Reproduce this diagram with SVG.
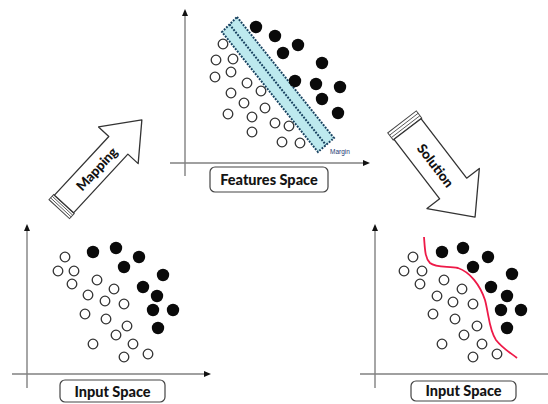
<svg xmlns="http://www.w3.org/2000/svg" width="548" height="404" viewBox="0 0 548 404">
<style>
.axis{stroke:#808080;stroke-width:1.4;fill:none}
.ah{fill:#111}
.o{fill:#fff;stroke:#333;stroke-width:1.3}
.b{fill:#0a0a0a}
.box{fill:#fff;stroke:#444;stroke-width:1.2}
.lbl{font-family:Lato,"Open Sans",sans-serif;font-weight:900;font-size:14.5px;fill:#141414;text-anchor:middle}
.arr{fill:#fff;stroke:#333;stroke-width:1.3;stroke-linejoin:round}
.cap{fill:#fff;stroke:#444;stroke-width:1}
.capl{stroke:#555;stroke-width:0.9}
.atxt{font-family:Lato,"Open Sans",sans-serif;font-weight:900;font-size:13.5px;fill:#111;text-anchor:middle}
.dot{stroke:#17405f;stroke-width:2;stroke-dasharray:1.8 1.4}
</style>
<defs>
<g id="oc"><circle r="4.8" class="o"/></g>
<g id="bc"><circle r="6.2" class="b"/></g>
</defs>

<g id="connectors">
  <g id="mapping-arrow" transform="translate(64,204) rotate(-47.2)">
    <rect x="-7" y="-14" width="7" height="28" class="cap"/>
    <line x1="-2.3" y1="-14" x2="-2.3" y2="14" class="capl"/>
    <line x1="-4.6" y1="-14" x2="-4.6" y2="14" class="capl"/>
    <polygon points="0,-13 80,-13 80,-27 114.6,0 80,27 80,13 0,13" class="arr"/>
    <text x="48" y="5" class="atxt">Mapping</text>
  </g>
  <g id="solution-arrow" transform="translate(407.5,129) rotate(52.5)">
    <rect x="-9" y="-18" width="9" height="36" class="cap"/>
    <line x1="-3" y1="-18" x2="-3" y2="18" class="capl"/>
    <line x1="-6" y1="-18" x2="-6" y2="18" class="capl"/>
    <polygon points="0,-17 75,-17 75,-33 111,0 75,33 75,17 0,17" class="arr"/>
    <text x="46" y="5" class="atxt">Solution</text>
  </g>
</g>

<g id="features-space">
  <line x1="185" y1="14" x2="185" y2="176" class="axis"/>
  <polygon points="185,9 182,16 188,16" class="ah"/>
  <line x1="170" y1="163" x2="364" y2="163" class="axis"/>
  <polygon points="370,163 363,160 363,166" class="ah"/>
  <g id="margin-band">
    <polygon points="237,17 334,138 318,152 222,32" fill="#bde9ee" class="dot"/>
    <line x1="229.5" y1="24.5" x2="326" y2="145" class="dot"/>
    <text x="330" y="154" font-family="Liberation Sans,Arial,sans-serif" font-size="6.5" fill="#1d3a72">Margin</text>
  </g>
  <g id="fs-black">
    <use href="#bc" x="256" y="27"/><use href="#bc" x="275" y="36"/><use href="#bc" x="298" y="45"/>
    <use href="#bc" x="283" y="53"/><use href="#bc" x="322" y="63"/><use href="#bc" x="295" y="81"/>
    <use href="#bc" x="316" y="84"/><use href="#bc" x="340" y="87"/><use href="#bc" x="322" y="99"/>
    <use href="#bc" x="338" y="113"/>
  </g>
  <g id="fs-open">
    <use href="#oc" x="223" y="44"/><use href="#oc" x="216" y="60"/><use href="#oc" x="233" y="59"/>
    <use href="#oc" x="215" y="77"/><use href="#oc" x="231" y="72"/><use href="#oc" x="247" y="83"/>
    <use href="#oc" x="231" y="93"/><use href="#oc" x="261" y="91"/><use href="#oc" x="244" y="103"/>
    <use href="#oc" x="265" y="108"/><use href="#oc" x="228" y="114"/><use href="#oc" x="252" y="117"/>
    <use href="#oc" x="275" y="123"/><use href="#oc" x="289" y="126"/><use href="#oc" x="252" y="132"/>
    <use href="#oc" x="282" y="142"/><use href="#oc" x="300" y="143"/>
  </g>
  <rect x="210" y="167" width="118" height="25" rx="5" class="box"/>
  <text x="269" y="185" class="lbl">Features Space</text>
</g>

<g id="input-space-left">
  <line x1="27" y1="229" x2="27" y2="388" class="axis"/>
  <polygon points="27,224 24,231 30,231" class="ah"/>
  <line x1="12" y1="374" x2="205" y2="374" class="axis"/>
  <polygon points="211,374 204,371 204,377" class="ah"/>
  <g id="ls-black">
    <use href="#bc" x="93" y="252"/><use href="#bc" x="116" y="248"/><use href="#bc" x="139" y="257"/>
    <use href="#bc" x="124" y="267"/><use href="#bc" x="163" y="275"/><use href="#bc" x="143" y="287"/>
    <use href="#bc" x="157" y="296"/><use href="#bc" x="153" y="310"/><use href="#bc" x="173" y="310"/>
    <use href="#bc" x="158" y="328"/>
  </g>
  <g id="ls-open">
    <use href="#oc" x="65" y="257"/><use href="#oc" x="58" y="271"/><use href="#oc" x="74" y="271"/>
    <use href="#oc" x="72" y="284"/><use href="#oc" x="97" y="280"/><use href="#oc" x="88" y="295"/>
    <use href="#oc" x="114" y="289"/><use href="#oc" x="105" y="301"/><use href="#oc" x="124" y="304"/>
    <use href="#oc" x="85" y="314"/><use href="#oc" x="106" y="319"/><use href="#oc" x="127" y="326"/>
    <use href="#oc" x="116" y="335"/><use href="#oc" x="93" y="344"/><use href="#oc" x="133" y="344"/>
    <use href="#oc" x="124" y="357"/><use href="#oc" x="148" y="354"/>
  </g>
  <rect x="60" y="380" width="105" height="22" rx="5" class="box"/>
  <text x="112.5" y="396.5" class="lbl">Input Space</text>
</g>

<g id="input-space-right">
  <line x1="375" y1="229" x2="375" y2="388" class="axis"/>
  <polygon points="375,224 372,231 378,231" class="ah"/>
  <line x1="360" y1="374" x2="548" y2="374" class="axis"/>
  <g id="rs-black">
    <use href="#bc" x="442" y="252"/><use href="#bc" x="463" y="248"/><use href="#bc" x="488" y="257"/>
    <use href="#bc" x="473" y="267"/><use href="#bc" x="512" y="274"/><use href="#bc" x="491" y="287"/>
    <use href="#bc" x="507" y="296"/><use href="#bc" x="501" y="310"/><use href="#bc" x="521" y="310"/>
    <use href="#bc" x="507" y="328"/>
  </g>
  <g id="rs-open">
    <use href="#oc" x="413" y="257"/><use href="#oc" x="404" y="271"/><use href="#oc" x="422" y="271"/>
    <use href="#oc" x="420" y="284"/><use href="#oc" x="444" y="280"/><use href="#oc" x="437" y="296"/>
    <use href="#oc" x="462" y="289"/><use href="#oc" x="453" y="302"/><use href="#oc" x="473" y="304"/>
    <use href="#oc" x="433" y="314"/><use href="#oc" x="455" y="319"/><use href="#oc" x="477" y="326"/>
    <use href="#oc" x="464" y="335"/><use href="#oc" x="442" y="344"/><use href="#oc" x="482" y="344"/>
    <use href="#oc" x="473" y="357"/><use href="#oc" x="497" y="354"/>
  </g>
  <path id="separator" d="M424,237 C425,250 425,258 430,263 C436,268 448,266 458,268 C470,272 480,285 485,300 C489,315 489,330 496,340 C503,349 511,353 517,358" fill="none" stroke="#ee1a48" stroke-width="1.8"/>
  <rect x="411" y="381" width="105" height="20" rx="5" class="box"/>
  <text x="463.5" y="395.5" class="lbl">Input Space</text>
</g>
</svg>
